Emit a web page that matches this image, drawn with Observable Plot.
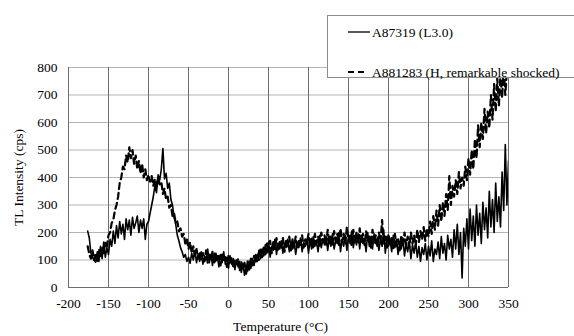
<!DOCTYPE html>
<html><head><meta charset="utf-8">
<script src="https://cdn.jsdelivr.net/npm/d3@7"></script>
<script src="https://cdn.jsdelivr.net/npm/@observablehq/plot@0.6"></script>
<style>
html,body{margin:0;padding:0;background:#fff;}
#chart{position:relative;width:574px;height:336px;overflow:hidden;}
</style></head><body><div id="chart"></div>
<script>
const temperatures = [
-176,-174,-172,-170,-168,-166,-164,-162,-160,-158,
-156,-154,-152,-150,-148,-146,-144,-142,-140,-138,
-136,-134,-132,-130,-128,-126,-124,-122,-120,-118,
-116,-114,-112,-110,-108,-106,-104,-102,-100,-98,
-96,-94,-92,-90,-88,-86,-84,-82,-80,-78,
-76,-74,-72,-70,-68,-66,-64,-62,-60,-58,
-56,-54,-52,-50,-48,-46,-44,-42,-40,-38,
-36,-34,-32,-30,-28,-26,-24,-22,-20,-18,
-16,-14,-12,-10,-8,-6,-4,-2,0,2,
4,6,8,10,12,14,16,18,20,22,
24,26,28,30,32,34,36,38,40,42,
44,46,48,50,52,54,56,58,60,62,
64,66,68,70,72,74,76,78,80,82,
84,86,88,90,92,94,96,98,100,102,
104,106,108,110,112,114,116,118,120,122,
124,126,128,130,132,134,136,138,140,142,
144,146,148,150,152,154,156,158,160,162,
164,166,168,170,172,174,176,178,180,182,
184,186,188,190,192,194,196,198,200,202,
204,206,208,210,212,214,216,218,220,222,
224,226,228,230,232,234,236,238,240,242,
244,246,248,250,252,254,256,258,260,262,
264,266,268,270,272,274,276,278,280,282,
284,286,288,290,292,294,296,298,300,302,
304,306,308,310,312,314,316,318,320,322,
324,326,328,330,332,334,336,338,340,342,
344,346,348,350];

const a87319 = [
205,180,125,110,100,92,130,95,150,105,
165,110,145,120,175,150,205,160,225,180,
240,195,230,175,250,210,245,190,255,215,
235,260,200,245,215,250,175,230,240,270,
300,330,370,345,410,390,430,505,395,415,
360,380,320,300,255,230,190,170,145,130,
110,120,95,110,88,125,100,135,90,120,
95,130,85,115,100,140,90,120,80,125,
95,115,75,120,90,130,85,110,70,115,
85,105,65,100,75,95,55,85,45,80,
60,95,70,105,80,120,95,135,105,140,
115,155,125,165,110,150,135,175,120,160,
140,170,125,160,145,175,130,165,140,170,
120,160,145,180,130,165,150,175,125,170,
140,185,150,165,130,190,145,175,155,185,
135,180,150,195,140,170,160,200,130,175,
150,190,135,185,160,205,145,180,155,195,
140,190,160,175,130,200,150,185,140,195,
160,180,135,175,150,210,125,185,150,170,
130,190,145,175,120,165,140,180,115,160,
130,170,105,155,125,165,110,150,95,145,
120,160,100,150,115,170,95,140,120,165,
105,185,125,160,100,190,140,175,110,210,
140,230,120,200,35,215,150,250,140,285,
170,260,150,300,190,270,160,310,210,290,
180,350,220,320,200,380,240,330,220,420,
280,520,300,460];

const a881283 = [
150,120,105,135,100,125,95,140,110,150,
125,165,150,190,200,235,245,280,300,330,
380,400,440,430,480,455,510,470,500,450,
480,430,460,415,450,400,430,390,410,385,
405,370,395,360,400,375,385,340,360,320,
330,290,300,260,270,235,240,205,215,185,
195,160,175,140,165,125,150,115,140,105,
130,100,125,95,135,90,120,105,130,85,
125,95,115,80,120,100,110,75,115,90,
110,70,100,85,105,60,95,70,90,50,
95,65,105,80,115,90,125,100,140,110,
145,120,160,130,170,125,165,140,180,135,
165,145,180,130,170,150,185,135,175,145,
185,140,170,155,190,145,175,160,195,150,
180,140,195,160,185,150,200,165,190,155,
210,160,190,150,205,170,195,155,215,165,
195,160,220,170,190,150,210,165,200,160,
215,165,195,155,205,170,185,145,210,160,
190,150,200,165,245,160,185,145,195,155,
180,140,195,150,175,135,190,150,200,155,
185,145,200,160,190,150,210,165,205,175,
220,170,215,185,240,195,260,210,280,225,
300,240,310,260,340,280,405,300,370,330,
390,340,420,360,400,370,440,390,470,410,
500,430,540,470,590,510,600,540,650,560,
640,580,700,610,740,640,760,660,780,690,
800,700,790,810];

const xTicks = [-200,-150,-100,-50,0,50,100,150,200,250,300,350];
const yTicks = [0,100,200,300,400,500,600,700,800];
const seriesNames = ["A87319 (L3.0)", "A881283 (H, remarkable shocked)"];
const xTitle = "Temperature (°C)";
const yTitle = "TL Intensity (cps)";

const solid = temperatures.map((t, i) => ({t, v: a87319[i]}));
const dashed = temperatures.map((t, i) => ({t, v: a881283[i]}));

const font = "'Liberation Serif','Times New Roman',serif";
const plot = Plot.plot({
  width: 574, height: 336,
  marginLeft: 68, marginRight: 66, marginTop: 67, marginBottom: 49,
  style: {fontFamily: font, fontSize: "13.5px", color: "#000", background: "#fff", overflow: "visible"},
  x: {domain: [-200, 350]},
  y: {domain: [0, 800]},
  marks: [
    Plot.gridY(yTicks, {stroke: "#b4b4b4", strokeOpacity: 1}),
    Plot.gridX(xTicks, {stroke: "#6e6e6e", strokeOpacity: 1}),
    Plot.ruleX([-200], {stroke: "#6e6e6e"}),
    Plot.ruleY([0], {stroke: "#6e6e6e"}),
    Plot.line(dashed, {x: "t", y: "v", stroke: "#000", strokeWidth: 2.2, strokeDasharray: "6,4", clip: true}),
    Plot.line(solid, {x: "t", y: "v", stroke: "#000", strokeWidth: 1.6, clip: true}),
    Plot.axisX(xTicks, {tickSize: 0, tickPadding: 11, label: null, fill: "#000", tickFormat: d => String(d)}),
    Plot.axisY(yTicks, {tickSize: 0, tickPadding: 11, label: yTitle, labelAnchor: "center", labelArrow: "none", labelOffset: 55, fill: "#000", tickFormat: d => String(d)}),
    Plot.text([xTitle], {frameAnchor: "bottom", dy: 43, dx: -8, text: d => d, fill: "#000"})
  ]
});

const svg = d3.select(plot);
const g = svg.append("g").attr("font-family", font).attr("font-size", "13.5px").attr("text-anchor", "start");
g.append("rect").attr("x", 327.5).attr("y", 15.5).attr("width", 260).attr("height", 62)
  .attr("fill", "#fff").attr("stroke", "#8c8c8c");
g.append("line").attr("x1", 348).attr("x2", 370).attr("y1", 32).attr("y2", 32)
  .attr("stroke", "#000").attr("stroke-width", 1.3);
g.append("line").attr("x1", 348).attr("x2", 366).attr("y1", 72).attr("y2", 72)
  .attr("stroke", "#000").attr("stroke-width", 2).attr("stroke-dasharray", "6,4");
g.append("text").attr("x", 372).attr("y", 32).attr("dy", "0.35em").attr("fill", "#000").text(seriesNames[0]);
g.append("text").attr("x", 372).attr("y", 72).attr("dy", "0.35em").attr("fill", "#000").text(seriesNames[1]);

document.getElementById("chart").appendChild(plot);
</script></body></html>
